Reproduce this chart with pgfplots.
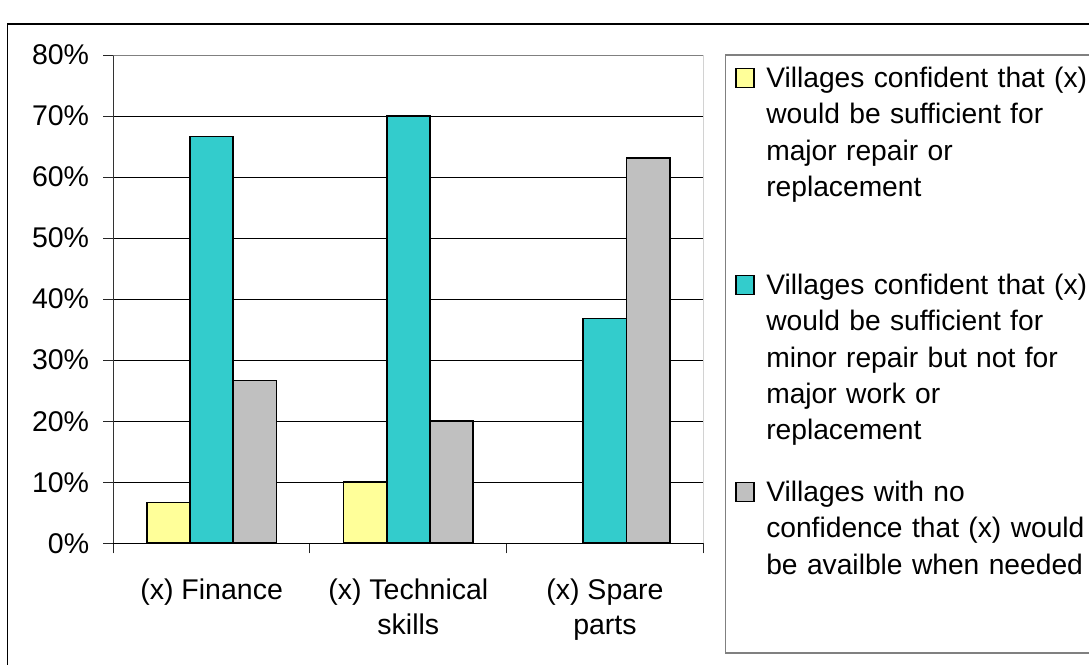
\documentclass[border=0pt]{standalone}
\usepackage{fontspec}
\setmainfont{Liberation Sans}
\usepackage{pgfplots}
\pgfplotsset{compat=1.18}

\definecolor{barYellow}{HTML}{FFFF99}
\definecolor{barTeal}{HTML}{33CCCC}
\definecolor{barGray}{HTML}{C0C0C0}
\definecolor{frameGray}{HTML}{808080}

\newcommand{\chartfont}{\fontsize{28.5}{36}\selectfont}
\newcommand{\legendfont}{\fontsize{28.2}{36.3}\selectfont}

\begin{document}
\begin{tikzpicture}[x=1pt,y=1pt]
\useasboundingbox (0,0) rectangle (1089,664);
% outer chart frame, running off the right and bottom edges
\draw[black, line width=1.6pt] (7.5,-20) -- (7.5,640) -- (1110,640);
% legend frame
\draw[frameGray, line width=1.2pt, fill=white] (725.7,11) rectangle (1110,609);
\begin{axis}[
  at={(113.3pt,120.7pt)}, anchor=south west,
  scale only axis, width=590pt, height=488.3pt,
  xmin=-0.5, xmax=2.5, ymin=0, ymax=80,
  axis lines*=left,
  x axis line style={draw=black, line width=1pt},
  y axis line style={draw=black!80, line width=1pt},
  ybar=0pt, bar width=43.3pt,
  legend image code/.code={\draw[#1, line width=1.6pt] (0pt,0pt) rectangle (18pt,19pt);},
  ytick={0,10,...,80},
  yticklabels={0\%,10\%,20\%,30\%,40\%,50\%,60\%,70\%,80\%},
  ymajorgrids, grid style={black, line width=0.9pt},
  tick align=outside, major tick length=10pt,
  tick style={black!85, line width=1pt},
  xtick={-0.5,0.5,1.5,2.5}, xticklabels={},
  extra x ticks={0,1,2},
  extra x tick labels={{(x) Finance},{(x) Technical\\skills},{(x) Spare\\parts}},
  extra x tick style={major tick length=0pt},
  yticklabel style={font=\chartfont, inner sep=0pt, xshift=-14pt},
  xticklabel style={font=\fontsize{28.5}{35}\selectfont, inner sep=0pt, align=center, yshift=-35pt, anchor=north},
  legend style={draw=none, fill=none, at={(1.0537,0.9795)}, anchor=north west,
    inner sep=0pt, row sep=181pt, column sep=9.5pt, font=\legendfont,
    cells={anchor=base west, text width=360pt, inner sep=0pt}},
]
% spare parts: 0% of villages in this group, so no bar is drawn there
\addplot[fill=barYellow, draw=black, line width=1.7pt] coordinates {(0,6.67) (1,10)};
\addlegendentry{Villages confident that (x)\\would be sufficient for\\major repair or\\replacement}
\addplot[fill=barTeal, draw=black, line width=1.7pt] coordinates {(0,66.67) (1,70) (2,36.84)};
\addlegendentry{Villages confident that (x)\\would be sufficient for\\minor repair but not for\\major work or\\replacement}
\addplot[fill=barGray, draw=black, line width=1.7pt] coordinates {(0,26.67) (1,20) (2,63.16)};
\addlegendentry{Villages with no\\confidence that (x) would\\be availble when needed}
% plot-area frame along the top and right
\draw[frameGray, line width=1.2pt] (rel axis cs:0,1) -- (rel axis cs:1,1) -- (rel axis cs:1,0);
\end{axis}
\end{tikzpicture}
\end{document}
